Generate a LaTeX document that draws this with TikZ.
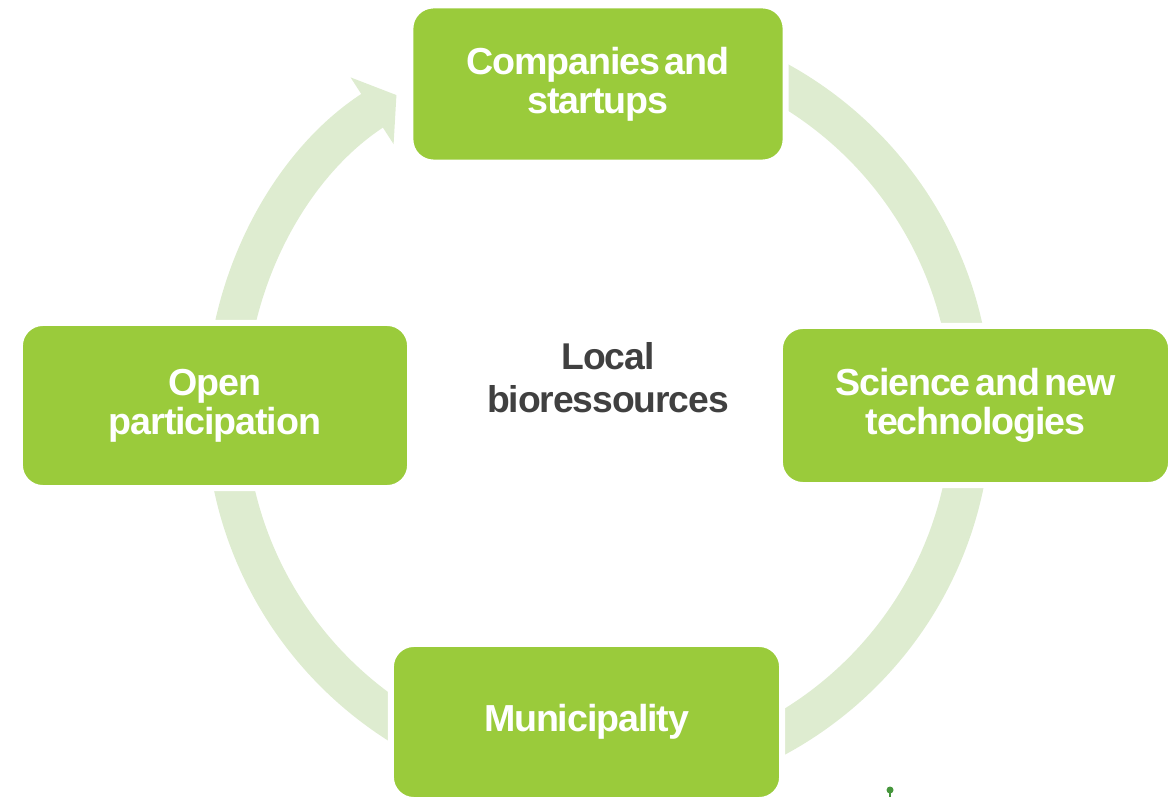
\documentclass[tikz,border=0pt]{standalone}
\usepackage{fontspec}
\setmainfont{Liberation Sans}
\newfontfamily\stagefont{Liberation Sans}[LetterSpace=-3,WordSpace=0.5]
\usetikzlibrary{arrows.meta}
\definecolor{leafgreen}{RGB}{154,203,59}
\definecolor{ringgreen}{RGB}{222,236,208}
\definecolor{hubgray}{RGB}{64,64,64}
\definecolor{pingreen}{RGB}{70,150,60}

\begin{document}
\begin{tikzpicture}[x=0.01cm,y=0.01cm,
    stage/.style={fill=leafgreen,draw=white,line width=0.06cm,rounded corners=0.23cm,
      text=white,align=center,inner sep=0pt,
      font=\stagefont\bfseries\fontsize{10.7}{11.1}\selectfont},
    hub/.style={text=hubgray,align=center,inner sep=0pt,
      font=\stagefont\bfseries\fontsize{10.6}{12.2}\selectfont}]
  \useasboundingbox (0,0) rectangle (1171,-798);
  \coordinate (ctr) at (598.5,-408.6);
  % cycle ring with its arrow head
  \draw[ringgreen,line width=0.4cm,-{Triangle[length=0.29cm,width=0.78cm]}]
    ([shift={(90:373)}]ctr) arc[start angle=90,end angle=-237.2,radius=373];
  % stages
  \node[stage,minimum width=3.75cm,minimum height=1.57cm] (firms) at (598,-84) {Companies and\\startups};
  \node[stage,minimum width=3.91cm,minimum height=1.59cm] (science) at (975.5,-405.5) {Science and new\\technologies};
  \node[stage,minimum width=3.91cm,minimum height=1.56cm] (city) at (586.5,-722) {Municipality};
  \node[stage,minimum width=3.90cm,minimum height=1.65cm] (open) at (215,-405.5) {Open\\participation};
  \node[hub] (bio) at (608,-378) {Local\\bioressources};
  % small pin
  \draw[pingreen,line width=0.012cm] (890,-791) -- (890,-797);
  \fill[pingreen] (890,-790) circle[radius=3.5];
\end{tikzpicture}
\end{document}
